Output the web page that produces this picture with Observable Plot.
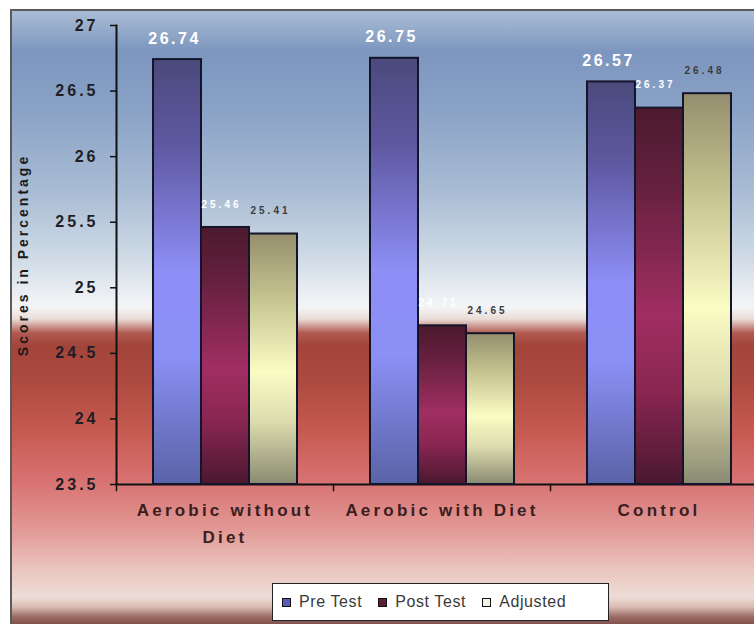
<!DOCTYPE html>
<html>
<head>
<meta charset="utf-8">
<script src="https://cdn.jsdelivr.net/npm/d3@7"></script>
<script src="https://cdn.jsdelivr.net/npm/@observablehq/plot@0.6"></script>
<style>
  html, body { margin: 0; padding: 0; overflow: hidden; background: #fff; }
  #wrap { position: relative; width: 754px; height: 624px; overflow: hidden; }
  #bg {
    position: absolute; left: 10px; top: 9px; width: 760px; height: 620px;
    border-left: 2px solid #5a5a5a; border-top: 2px solid #5a5a5a;
    background: linear-gradient(to bottom,
      #aabdd5 0px, #7d96bf 40px, #8aa2c6 100px, #a9bcd4 180px, #cbd7e4 240px,
      #e4eaf0 275px, #f4f5f7 296px, #eadcd8 308px, #b05a50 322px, #a3443a 335px,
      #ac4a40 370px, #c65a50 420px, #d87272 470px, #e29a96 520px, #ebc6c0 560px,
      #eddcd6 586px, #d8bcb4 596px, #9a6a62 606px, #7a4c46 615px);
  }
  #chart { position: absolute; left: 0; top: 0; width: 767px; }
  #chart svg { max-width: none !important; }
  #legend {
    position: absolute; left: 272px; top: 583px; width: 337px; height: 38px;
    background: #fff; border: 1.5px solid #222; box-sizing: border-box;
    font-family: "Liberation Sans", Arial, sans-serif; font-size: 16px; color: #3a3a3a;
    display: flex; align-items: center; padding-left: 9px; letter-spacing: 0.6px;
  }
  #legend .sw { display: inline-block; width: 7px; height: 7px; border: 1.5px solid #111; margin-right: 8px; }
  #legend .it { display: inline-flex; align-items: center; margin-right: 16px; }
</style>
</head>
<body>
<div id="wrap">
  <div id="bg"></div>
  <div id="chart"></div>
  <div id="legend"></div>
</div>
<script>
const categories = ["Aerobic without\nDiet", "Aerobic with Diet", "Control"];
const seriesNames = ["Pre Test", "Post Test", "Adjusted"];
const preTest = [26.74, 26.75, 26.57];
const postTest = [25.46, 24.71, 26.37];
const adjusted = [25.41, 24.65, 26.48];
const yTicks = [23.5, 24, 24.5, 25, 25.5, 26, 26.5, 27];
const yLabel = "Scores in Percentage";

const seriesValues = [preTest, postTest, adjusted];
const rows = [];
categories.forEach((c, i) => seriesNames.forEach((s, j) => rows.push({cat: c, series: s, value: seriesValues[j][i]})));
const yMin = yTicks[0], yMax = yTicks[yTicks.length - 1];
const gradIds = {"Pre Test": "gPre", "Post Test": "gPost", "Adjusted": "gAdj"};
const of = (s) => rows.filter(d => d.series === s);

const font = "'Liberation Sans', Arial, sans-serif";
const W = 767, H = 560, mT = 25, mB = 76, mL = 116;

const chart = Plot.plot({
  width: W,
  height: H,
  marginLeft: mL,
  marginRight: 0,
  marginTop: mT,
  marginBottom: mB,
  style: {background: "transparent", fontFamily: font, overflow: "visible"},
  fx: {domain: categories, padding: 0, axis: null},
  x: {domain: seriesNames, paddingInner: 0, paddingOuter: 0.73, axis: null},
  y: {domain: [yMin, yMax], axis: null},
  marks: [
    Plot.axisY({ticks: yTicks, tickFormat: d => String(d), tickSize: 6, tickPadding: 12,
      fontSize: 16, fontWeight: "bold", fill: "#1e1e24", stroke: "#111", strokeWidth: 1.5,
      label: yLabel, labelAnchor: "center", labelOffset: 98, labelArrow: "none"}),
    Plot.frame({anchor: "left", facet: "super", stroke: "#111", strokeWidth: 2}),
    Plot.frame({anchor: "left", stroke: "#111", strokeWidth: 1.5, insetTop: H - mT - mB, insetBottom: -6}),
    Plot.ruleY([yMin], {stroke: "#111", strokeWidth: 2}),
    Plot.axisFx({anchor: "bottom", tickSize: 0, tickPadding: 12, fontSize: 17, fontWeight: "bold", fill: "#3a1e1e",
      lineHeight: 1.6, label: null}),
    ...seriesNames.map(s => Plot.barY(of(s), {
      fx: "cat", x: "series", y1: () => yMin, y2: "value",
      fill: `url(#${gradIds[s]})`, stroke: "#14142a", strokeWidth: 2
    })),
    Plot.text(of("Pre Test"), {fx: "cat", x: "series", y: "value", text: d => d.value.toFixed(2),
      dy: -21, dx: -3, fill: "#ffffff", fontSize: 16, fontWeight: "bold", className: "lblPre"}),
    Plot.text(of("Post Test"), {fx: "cat", x: "series", y: "value", text: d => d.value.toFixed(2),
      dy: -23, dx: -4, fill: "#ffffff", fontSize: 10, fontWeight: "bold", className: "lblSmall"}),
    Plot.text(of("Adjusted"), {fx: "cat", x: "series", y: "value", text: d => d.value.toFixed(2),
      dy: -23, dx: -3, fill: "#3c3c3c", fontSize: 10, fontWeight: "bold", className: "lblSmall"})
  ]
});

const svg = d3.select(chart);
const defs = svg.insert("defs", ":first-child");
function grad(id, stops) {
  const g = defs.append("linearGradient").attr("id", id).attr("x1", 0).attr("y1", 0).attr("x2", 0).attr("y2", 1);
  stops.forEach(([o, c]) => g.append("stop").attr("offset", o).attr("stop-color", c));
}
grad("gPre", [[0, "#4a4a7c"], [0.2, "#5e58a0"], [0.5, "#8e8ef6"], [0.7, "#8a90f4"], [1, "#5a62a6"]]);
grad("gPost", [[0, "#4c1a2e"], [0.2, "#64203e"], [0.55, "#a02e62"], [0.75, "#8a2652"], [1, "#4a1830"]]);
grad("gAdj", [[0, "#958e6e"], [0.25, "#c4c28e"], [0.55, "#fbfbc4"], [0.75, "#dcdcae"], [1, "#8a8a72"]]);

svg.selectAll("[aria-label='y-axis tick label'] text").attr("letter-spacing", "3px");
svg.selectAll("[aria-label='y-axis label'] text").attr("font-size", 14).attr("font-weight", "bold").attr("fill", "#1a1a1a").attr("letter-spacing", "3px");
svg.selectAll("[aria-label='fx-axis tick label'] text").attr("letter-spacing", "3.2px");
svg.selectAll(".lblPre text").attr("letter-spacing", "2.5px");
svg.selectAll(".lblSmall text").attr("letter-spacing", "3px");

document.getElementById("chart").appendChild(chart);

const swatchFill = {"Pre Test": "#5a5ab8", "Post Test": "#5a1e36", "Adjusted": "#f4f4e4"};
const legend = d3.select("#legend");
seriesNames.forEach(s => {
  const it = legend.append("span").attr("class", "it");
  it.append("span").attr("class", "sw").style("background", swatchFill[s]);
  it.append("span").text(s);
});
</script>
</body>
</html>
